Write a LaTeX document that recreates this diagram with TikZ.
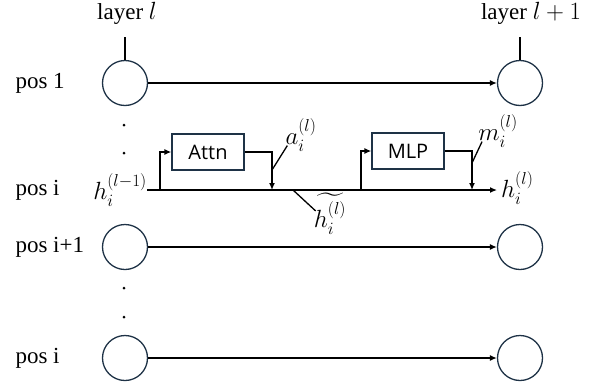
\documentclass[tikz,border=0pt]{standalone}
\usepackage{amsmath,amssymb}
\usepackage{fontspec}
\setmainfont{Liberation Serif}
\newfontfamily\boxfont{Open Sans}
\usetikzlibrary{arrows.meta,positioning,calc}
\definecolor{slate}{HTML}{1E3246}

\begin{document}
\begin{tikzpicture}[x=1pt, y=-1pt,
  every node/.style={font=\fontsize{23}{26}\selectfont},
  neuron/.style={circle, draw=slate, line width=1.3pt, minimum size=45pt, inner sep=0pt},
  block/.style={draw=slate, line width=1.3pt, minimum width=72pt, minimum height=36pt,
    inner sep=0pt, font=\boxfont\fontsize{20}{22}\selectfont},
  vec/.style={inner sep=0pt, font=\fontsize{26}{28}\selectfont},
  flow/.style={line width=1.3pt, -{Latex[length=7pt,width=6pt]}},
  wire/.style={line width=1.3pt}]
  \useasboundingbox (0,0) rectangle (589,386);

  % layer headers
  \node (layL) at (127,13) {layer $l$};
  \node (layR) at (531,13) {layer $l+1$};
  \coordinate (tickL) at (125,37);
  \coordinate (tickR) at (520,37);

  % position labels
  \node[anchor=west] (pos1) at (12,83) {pos 1};
  \node[anchor=west] (posi) at (12,190) {pos i};
  \node[anchor=west] (posn) at (12,247) {pos i+1};
  \node[anchor=west] (posm) at (12,358) {pos i};

  % hidden states
  \node[neuron] (n1L) at (125,83) {};
  \node[neuron] (n1R) at (520,83) {};
  \node[neuron] (n2L) at (125,247) {};
  \node[neuron] (n2R) at (520,247) {};
  \node[neuron] (n3L) at (125,358) {};
  \node[neuron] (n3R) at (520,358) {};

  \draw[wire] (tickL) -- (n1L.north);
  \draw[wire] (tickR) -- (n1R.north);
  \draw[flow] (n1L) -- (n1R);
  \draw[flow] (n2L) -- (n2R);
  \draw[flow] (n3L) -- (n3R);

  \foreach \y in {125,153,288,317}
    \fill (124,\y) circle (1.5pt);

  % residual stream at pos i
  \node[vec, anchor=east] (hin) at (147,190) {$h_i^{(l-1)}$};
  \node[vec, anchor=west, inner sep=4pt] (hout) at (497,188) {$h_i^{(l)}$};
  \coordinate (splitA) at (160,190);
  \coordinate (mergeA) at (272,190);
  \coordinate (splitM) at (361,190);
  \coordinate (mergeM) at (472,190);
  \coordinate (tildeA) at (293,190);

  \node[block] (attn) at (208,152) {Attn};
  \node[block] (mlp) at (408,151) {MLP};

  \draw[flow] (hin.east |- splitA) -- (hout.west |- splitA);
  \draw[flow] (splitA) |- (attn.west);
  \draw[flow] (attn.east) -| (mergeA);
  \draw[flow] (splitM) |- (mlp.west);
  \draw[flow] (mlp.east) -| (mergeM);

  % labels on the stream
  \node[vec] (aout) at (301,135) {$a_i^{(l)}$};
  \node[vec] (mout) at (498,131) {$m_i^{(l)}$};
  \node[vec] (htil) at (330,214) {$\widetilde{h_i^{(l)}}$};
  \coordinate (aptr) at (272,170);
  \coordinate (mptr) at (472,163);

  \draw[wire] (aptr) -- ($(aout.south west)+(2,-6)$);
  \draw[wire] (mptr) -- ($(mout.south west)+(4,-6)$);
  \draw[wire] (tildeA) -- ($(htil.west)+(2,-3)$);
\end{tikzpicture}
\end{document}
